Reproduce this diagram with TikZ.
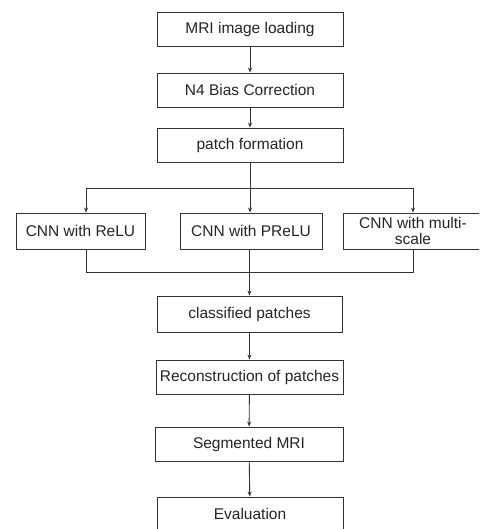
\documentclass[tikz,border=0pt]{standalone}
\usepackage{fontspec}
\setmainfont{Liberation Sans}
\usetikzlibrary{arrows.meta}
\tikzset{
  box/.style={draw=black!80, line width=0.9pt, minimum height=34pt, inner sep=0pt, align=center, font=\fontsize{15.5}{15.5}\selectfont, text=black!85},
  wire/.style={draw=black!80, line width=0.9pt},
  arr/.style={wire, -{Stealth[length=5pt,width=4pt]}}
}
\begin{document}
\begin{tikzpicture}[x=1pt,y=-1pt]
\useasboundingbox (0,0) rectangle (479,529);
\clip (0,0) rectangle (479,529);
\fill[white] (0,0) rectangle (479,529);
\node[box, minimum width=186pt] (p1) at (250,29) {MRI image loading};
\node[box, minimum width=186pt] (p2) at (250,90) {N4 Bias Correction};
\node[box, minimum width=186pt] (p3) at (250,145) {patch formation};
\node[box, minimum width=129pt, minimum height=36pt] (c1) at (80.5,231) {CNN with ReLU};
\node[box, minimum width=142pt, minimum height=36pt] (c2) at (251,231) {CNN with PReLU};
\node[box, minimum width=140pt, minimum height=36pt] (c3) at (413,231) {CNN with multi-\\scale};
\node[box, minimum width=185pt, minimum height=36pt] (q1) at (249.5,314) {classified patches};
\node[box, minimum width=187pt] (q2) at (249.5,377) {Reconstruction of patches};
\node[box, minimum width=188pt] (q3) at (249,444) {Segmented MRI};
\node[box, minimum width=186pt] (q4) at (250,514) {Evaluation};
\coordinate (bl) at (86,188);
\coordinate (bm) at (250,188);
\coordinate (br) at (413,188);
\coordinate (ml) at (86,272);
\coordinate (mr) at (413,272);
\draw[arr] (p1) -- (p2);
\draw[arr] (p2) -- (p3);
\draw[wire] (p3.south) -- (bm);
\draw[wire] (bl) -- (br);
\draw[arr] (bl) -- (bl |- c1.north);
\draw[arr] (bm) -- (bm |- c2.north);
\draw[arr] (br) -- (br |- c3.north);
\draw[wire] (ml |- c1.south) -- (ml) -- (mr) -- (mr |- c3.south);
\draw[arr] (c2.south -| q1.north) -- (q1.north);
\draw[arr] (q1) -- (q2);
\draw[arr] (q2) -- (q3);
\draw[arr] (q3) -- (q4);
\end{tikzpicture}
\end{document}
